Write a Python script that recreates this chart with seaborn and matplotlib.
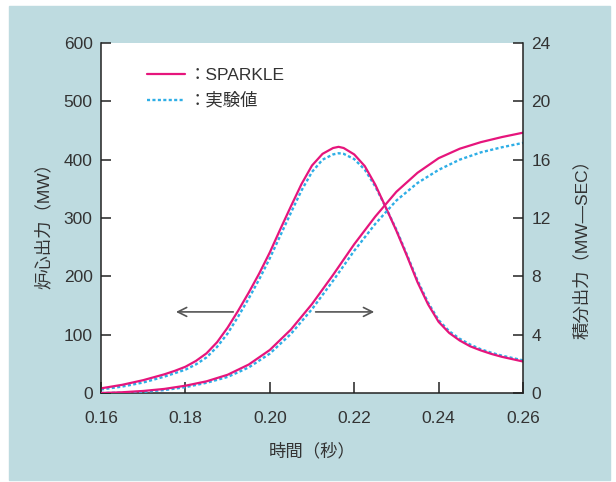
import pandas as pd
import seaborn as sns
from matplotlib import pyplot as plt
from matplotlib.lines import Line2D
from matplotlib.patches import Rectangle

# core power (MW), left axis
power_t = [0.160, 0.165, 0.170, 0.175, 0.1775, 0.180, 0.1825, 0.185, 0.1875,
           0.190, 0.1925, 0.195, 0.1975, 0.200, 0.2025, 0.205, 0.2075, 0.210,
           0.2125, 0.215, 0.2163, 0.2175, 0.220, 0.2225, 0.225, 0.2275, 0.230,
           0.2325, 0.235, 0.2375, 0.240, 0.2425, 0.245, 0.2475, 0.250, 0.2525,
           0.255, 0.2575, 0.260]
sparkle_power = [8, 14, 22, 32, 38, 45, 55, 68, 87, 112, 141, 172, 205, 241,
                 281, 320, 358, 390, 410, 420, 422, 420, 409, 389, 357, 318,
                 278, 235, 190, 152, 122, 103, 90, 80, 73, 67, 62, 58, 54]
exp_power = [6, 11, 18, 28, 34, 40, 49, 61, 79, 102, 131, 162, 195, 231, 270,
             309, 347, 379, 400, 409, 411, 410, 401, 383, 354, 318, 280, 237,
             193, 155, 125, 106, 93, 83, 75, 69, 64, 60, 56]

# integrated power (MW-SEC), right axis
energy_t = [0.160, 0.165, 0.170, 0.175, 0.180, 0.185, 0.190, 0.195, 0.200,
            0.205, 0.210, 0.215, 0.220, 0.225, 0.230, 0.235, 0.240, 0.245,
            0.250, 0.255, 0.260]
sparkle_energy = [0.0, 0.05, 0.14, 0.28, 0.5, 0.8, 1.25, 1.95, 2.95, 4.35, 6.1,
                  8.1, 10.2, 12.1, 13.8, 15.1, 16.1, 16.75, 17.2, 17.55, 17.85]
exp_energy = [0.0, 0.02, 0.08, 0.2, 0.4, 0.7, 1.1, 1.75, 2.7, 4.05, 5.75, 7.7,
              9.75, 11.6, 13.2, 14.4, 15.3, 16.0, 16.5, 16.85, 17.15]

x_ticks = [0.16, 0.18, 0.20, 0.22, 0.24, 0.26]
left_ticks = [0, 100, 200, 300, 400, 500, 600]
right_ticks = [0, 4, 8, 12, 16, 20, 24]

power_df = pd.DataFrame({'t': power_t, 'sp': sparkle_power, 'ep': exp_power})
energy_df = pd.DataFrame({'t': energy_t, 'se': sparkle_energy, 'ee': exp_energy})

PINK = '#e6157c'
BLUE = '#2eaee6'
PANEL = '#bedbe0'
TXT = '#333333'
dash = (0, (1.3, 1.0))

sns.set_style('ticks')
plt.rcParams['font.family'] = ['Liberation Sans', 'Noto Sans CJK JP']
plt.rcParams['font.size'] = 12.5

fig = plt.figure(figsize=(6.16, 4.82), dpi=100, facecolor='white')
fig.patches.append(Rectangle((9 / 616, 2 / 482), 601 / 616, 474 / 482,
                             transform=fig.transFigure, color=PANEL, zorder=-5))
ax1 = fig.add_axes([101 / 616, 89 / 482, 422 / 616, 350 / 482])
ax1.set_facecolor('white')
ax2 = ax1.twinx()

sns.lineplot(data=power_df, x='t', y='ep', ax=ax1, color=BLUE, lw=1.7, linestyle=dash)
sns.lineplot(data=power_df, x='t', y='sp', ax=ax1, color=PINK, lw=1.6)
sns.lineplot(data=energy_df, x='t', y='ee', ax=ax2, color=BLUE, lw=1.7, linestyle=dash)
sns.lineplot(data=energy_df, x='t', y='se', ax=ax2, color=PINK, lw=1.6)

ax1.set_xlim(0.16, 0.26)
ax1.set_ylim(0, 600)
ax2.set_ylim(0, 24)
ax1.set_xticks(x_ticks)
ax1.set_xticklabels([f'{v:.2f}' for v in x_ticks])
ax1.set_yticks(left_ticks)
ax2.set_yticks(right_ticks)

for ax in (ax1, ax2):
    ax.spines['top'].set_visible(False)
    for s in ax.spines.values():
        s.set_color('#222222')
        s.set_linewidth(1.1)
ax1.spines['right'].set_visible(False)
ax2.spines['left'].set_visible(False)
ax2.spines['bottom'].set_visible(False)

ax1.tick_params(axis='y', direction='in', length=7.5, width=1.1, pad=6,
                colors='#222222', labelcolor=TXT, labelsize=12.5)
ax1.tick_params(axis='x', direction='in', length=8, width=1.1, pad=13,
                colors='#222222', labelcolor=TXT, labelsize=12.5)
ax2.tick_params(axis='y', direction='in', length=7.5, width=1.1, pad=6,
                colors='#222222', labelcolor=TXT, labelsize=12.5)

ax1.set_xlabel('時間（秒）', color=TXT, fontsize=12.5, labelpad=12)
ax1.set_ylabel('炉心出力（MW）', color=TXT, fontsize=12.5)
ax2.set_ylabel('積分出力（MW—SEC）', color=TXT, fontsize=12.5)
ax1.yaxis.set_label_coords(-0.118, 0.489)
ax2.yaxis.set_label_coords(1.118, 0.423)

arrow = dict(arrowstyle='->', color='#555555', lw=1.2, mutation_scale=16)
ax1.annotate('', xy=(0.1771, 139), xytext=(0.1920, 139), arrowprops=arrow)
ax1.annotate('', xy=(0.2254, 139), xytext=(0.2102, 139), arrowprops=arrow)

handles = [Line2D([], [], color=PINK, lw=1.6),
           Line2D([], [], color=BLUE, lw=1.7, linestyle=dash)]
ax2.legend(handles, ['：SPARKLE', '：実験値'], loc='upper left',
           bbox_to_anchor=(0.109, 0.93), frameon=False, borderpad=0,
           borderaxespad=0, handlelength=2.2, handletextpad=0.2,
           labelspacing=0.55, labelcolor=TXT, fontsize=12.5)

plt.savefig('out.png', dpi=100, facecolor='white')
